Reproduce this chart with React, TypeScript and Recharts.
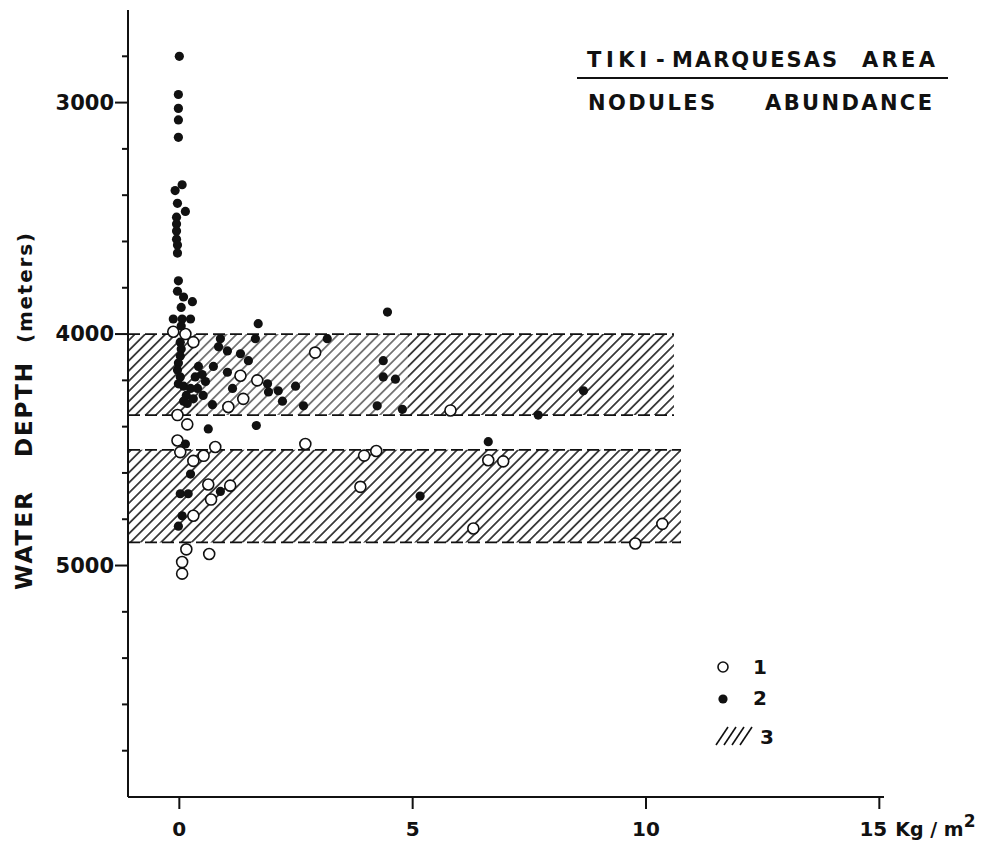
import { ReferenceArea, ReferenceLine, Scatter, ScatterChart, XAxis, YAxis } from 'recharts';

const FONT = '"DejaVu Sans", "Liberation Sans", sans-serif';
const INK = '#111';

// axis ticks
const kgTicks = [0, 5, 10, 15];
const depthTicks = [2800, 3000, 3200, 3400, 3600, 3800, 4000, 4200, 4400, 4600, 4800, 5000, 5200, 5400, 5600, 5800];
const labelledDepths = [3000, 4000, 5000];

// hatched depth bands (3)
const bandTop = [4000, 4500];
const bandBottom = [4350, 4900];
const bandRight = [10.6, 10.75];

// 1: open circles
const openStations = [
  { kg: -0.13, depth: 3990 }, { kg: 0.13, depth: 4000 }, { kg: 0.3, depth: 4035 }, { kg: 2.91, depth: 4080 },
  { kg: 1.31, depth: 4180 }, { kg: 1.67, depth: 4200 }, { kg: 1.37, depth: 4280 }, { kg: 1.05, depth: 4315 },
  { kg: -0.04, depth: 4350 }, { kg: 0.17, depth: 4390 }, { kg: -0.04, depth: 4460 }, { kg: 0.02, depth: 4510 },
  { kg: 0.3, depth: 4548 }, { kg: 0.52, depth: 4526 }, { kg: 0.77, depth: 4488 }, { kg: 2.7, depth: 4475 },
  { kg: 3.96, depth: 4525 }, { kg: 4.22, depth: 4505 }, { kg: 3.88, depth: 4660 }, { kg: 0.62, depth: 4650 },
  { kg: 1.09, depth: 4655 }, { kg: 0.68, depth: 4715 }, { kg: 0.3, depth: 4785 }, { kg: 0.15, depth: 4930 },
  { kg: 0.64, depth: 4950 }, { kg: 0.06, depth: 4985 }, { kg: 0.06, depth: 5035 }, { kg: 5.81, depth: 4330 },
  { kg: 6.62, depth: 4545 }, { kg: 6.94, depth: 4550 }, { kg: 6.3, depth: 4840 }, { kg: 9.77, depth: 4905 },
  { kg: 10.35, depth: 4820 }
];

// 2: filled dots
const filledStations = [
  { kg: 0, depth: 2800 }, { kg: -0.02, depth: 2965 }, { kg: -0.02, depth: 3025 }, { kg: -0.02, depth: 3075 },
  { kg: -0.02, depth: 3150 }, { kg: 0.06, depth: 3355 }, { kg: -0.09, depth: 3380 }, { kg: -0.04, depth: 3435 },
  { kg: 0.13, depth: 3470 }, { kg: -0.06, depth: 3495 }, { kg: -0.06, depth: 3525 }, { kg: -0.06, depth: 3555 },
  { kg: -0.06, depth: 3590 }, { kg: -0.04, depth: 3615 }, { kg: -0.04, depth: 3650 }, { kg: -0.02, depth: 3770 },
  { kg: -0.04, depth: 3815 }, { kg: 0.09, depth: 3840 }, { kg: 0.28, depth: 3860 }, { kg: 0.04, depth: 3885 },
  { kg: -0.13, depth: 3935 }, { kg: 0.06, depth: 3935 }, { kg: 0.24, depth: 3935 }, { kg: 0.04, depth: 3965 },
  { kg: 1.69, depth: 3955 }, { kg: 4.46, depth: 3905 },
  { kg: 0.02, depth: 4035 }, { kg: 0.04, depth: 4065 }, { kg: 0.02, depth: 4095 }, { kg: -0.02, depth: 4125 },
  { kg: -0.04, depth: 4155 }, { kg: 0.02, depth: 4185 }, { kg: -0.02, depth: 4215 }, { kg: 0.09, depth: 4225 },
  { kg: 0.24, depth: 4235 }, { kg: 0.39, depth: 4235 }, { kg: 0.15, depth: 4265 }, { kg: 0.3, depth: 4280 },
  { kg: 0.09, depth: 4290 }, { kg: 0.17, depth: 4300 }, { kg: 0.51, depth: 4265 }, { kg: 0.71, depth: 4305 },
  { kg: 0.56, depth: 4205 }, { kg: 0.34, depth: 4185 }, { kg: 0.41, depth: 4140 }, { kg: 0.49, depth: 4175 },
  { kg: 0.88, depth: 4020 }, { kg: 0.84, depth: 4055 }, { kg: 1.03, depth: 4073 }, { kg: 1.31, depth: 4085 },
  { kg: 1.48, depth: 4115 }, { kg: 0.73, depth: 4140 }, { kg: 1.03, depth: 4165 }, { kg: 1.14, depth: 4235 },
  { kg: 1.63, depth: 4020 }, { kg: 1.89, depth: 4215 }, { kg: 1.91, depth: 4250 }, { kg: 2.12, depth: 4245 },
  { kg: 2.21, depth: 4290 }, { kg: 2.49, depth: 4225 }, { kg: 2.66, depth: 4310 }, { kg: 3.17, depth: 4020 },
  { kg: 4.37, depth: 4115 }, { kg: 4.37, depth: 4185 }, { kg: 4.63, depth: 4195 }, { kg: 4.24, depth: 4310 },
  { kg: 4.78, depth: 4325 }, { kg: 8.66, depth: 4245 }, { kg: 7.69, depth: 4350 },
  { kg: 0.62, depth: 4410 }, { kg: 1.65, depth: 4395 }, { kg: 0.13, depth: 4475 }, { kg: 6.62, depth: 4465 },
  { kg: 0.24, depth: 4605 }, { kg: 0.02, depth: 4690 }, { kg: 0.19, depth: 4690 }, { kg: 0.88, depth: 4680 },
  { kg: 0.06, depth: 4785 }, { kg: -0.02, depth: 4830 }, { kg: 5.16, depth: 4700 }
];

const legendLabels = ['1', '2', '3'];

const OpenDot = (p: any) => <circle cx={p.cx} cy={p.cy} r={5.5} fill="#fff" stroke={INK} strokeWidth={1.6} />;
const FilledDot = (p: any) => <circle cx={p.cx} cy={p.cy} r={4.6} fill={INK} />;

function DepthTick({ x, y, payload }: any) {
  const major = labelledDepths.includes(payload.value);
  return (
    <g>
      <line x1={x - (major ? 13 : 6)} x2={x} y1={y} y2={y} stroke={INK} strokeWidth={2} />
      {major && (
        <text x={x - 14} y={y} textAnchor="end" dominantBaseline="central" fontFamily={FONT} fontWeight={700} fontSize={21} fill={INK}>
          {payload.value}
        </text>
      )}
    </g>
  );
}

function KgTick({ x, y, payload }: any) {
  const last = payload.value === kgTicks[kgTicks.length - 1];
  return (
    <g>
      <line x1={x} x2={x} y1={y} y2={y + 12} stroke={INK} strokeWidth={2} />
      <text x={x - (last ? 6 : 0)} y={y + 39} textAnchor="middle" fontFamily={FONT} fontWeight={700} fontSize={20} fill={INK}>
        {payload.value}
      </text>
      {last && (
        <text x={x + 16} y={y + 39} fontFamily={FONT} fontWeight={700} fontSize={19} fill={INK}>
          Kg / m<tspan dy={-9} fontSize={17}>2</tspan>
        </text>
      )}
    </g>
  );
}

export default function App() {
  const txt = { fontFamily: FONT, fontWeight: 700, fill: INK } as const;
  return (
    <div style={{ position: 'relative', width: 980, height: 835 }}>
      <ScatterChart width={980} height={835} margin={{ top: 2, right: 104, bottom: 6, left: 0 }}>
        <defs>
          <pattern id="hatch" width="7.2" height="7.2" patternUnits="userSpaceOnUse" patternTransform="rotate(45)">
            <line x1="3.6" y1="0" x2="3.6" y2="7.2" stroke={INK} strokeWidth="1.5" />
          </pattern>
        </defs>
        <XAxis type="number" dataKey="kg" domain={[-1.1, 15.1]} ticks={kgTicks} interval={0} height={40}
          axisLine={{ stroke: INK, strokeWidth: 2 }} tickLine={false} tickSize={0} tickMargin={0} tick={<KgTick />} allowDataOverflow />
        <YAxis type="number" dataKey="depth" domain={[2600, 6000]} reversed ticks={depthTicks} interval={0} width={120}
          axisLine={{ stroke: INK, strokeWidth: 2 }} tickLine={false} tickSize={0} tickMargin={0} tick={<DepthTick />} allowDataOverflow />
        {bandTop.map((top, i) => (
          <ReferenceArea key={'b' + i} x1={-1.1} x2={bandRight[i]} y1={top} y2={bandBottom[i]} fill="url(#hatch)" fillOpacity={1} stroke="none" />
        ))}
        <ReferenceArea x1={0.4} x2={4.9} y1={bandTop[0]} y2={bandBottom[0]} fill="#fff" fillOpacity={0.3} stroke="none" />
        {bandTop.map((top, i) => (
          <ReferenceLine key={'t' + i} segment={[{ x: -1.1, y: top }, { x: bandRight[i], y: top }]} stroke={INK} strokeWidth={1.8} strokeDasharray="12 5" />
        ))}
        {bandBottom.map((bot, i) => (
          <ReferenceLine key={'u' + i} segment={[{ x: -1.1, y: bot }, { x: bandRight[i], y: bot }]} stroke={INK} strokeWidth={1.8} strokeDasharray="12 5" />
        ))}
        <Scatter data={openStations} shape={OpenDot} isAnimationActive={false} />
        <Scatter data={filledStations} shape={FilledDot} isAnimationActive={false} />
      </ScatterChart>

      <svg width={980} height={835} style={{ position: 'absolute', left: 0, top: 0, pointerEvents: 'none' }}>
        {/* title */}
        <text x={579} y={59} fontSize={21} textLength={60} lengthAdjust="spacing" {...txt}>TIKI</text>
        <text x={648} y={59} fontSize={21} {...txt}>-</text>
        <text x={664} y={59} fontSize={21} textLength={165} lengthAdjust="spacing" {...txt}>MARQUESAS</text>
        <text x={854} y={59} fontSize={21} textLength={73} lengthAdjust="spacing" {...txt}>AREA</text>
        <line x1={569} x2={940} y1={70} y2={70} stroke={INK} strokeWidth={2} />
        <text x={580} y={102} fontSize={21} textLength={127} lengthAdjust="spacing" {...txt}>NODULES</text>
        <text x={757} y={102} fontSize={21} textLength={167} lengthAdjust="spacing" {...txt}>ABUNDANCE</text>

        {/* y axis title */}
        <text transform="translate(24,582) rotate(-90)" fontSize={23} textLength={98} lengthAdjust="spacing" {...txt}>WATER</text>
        <text transform="translate(24,449) rotate(-90)" fontSize={23} textLength={94} lengthAdjust="spacing" {...txt}>DEPTH</text>
        <text transform="translate(24,335) rotate(-90)" fontSize={20} textLength={110} lengthAdjust="spacing" {...txt}>(meters)</text>

        {/* legend */}
        <circle cx={715} cy={659} r={5} fill="#fff" stroke={INK} strokeWidth={1.6} />
        <text x={745} y={659} dominantBaseline="central" fontSize={20} {...txt}>{legendLabels[0]}</text>
        <circle cx={715} cy={691} r={4.6} fill={INK} />
        <text x={745} y={690} dominantBaseline="central" fontSize={20} {...txt}>{legendLabels[1]}</text>
        {[0, 1, 2, 3].map((i) => (
          <line key={i} x1={708 + 8 * i} y1={737} x2={720 + 8 * i} y2={719} stroke={INK} strokeWidth={1.6} />
        ))}
        <text x={752} y={729} dominantBaseline="central" fontSize={20} {...txt}>{legendLabels[2]}</text>
      </svg>
    </div>
  );
}
